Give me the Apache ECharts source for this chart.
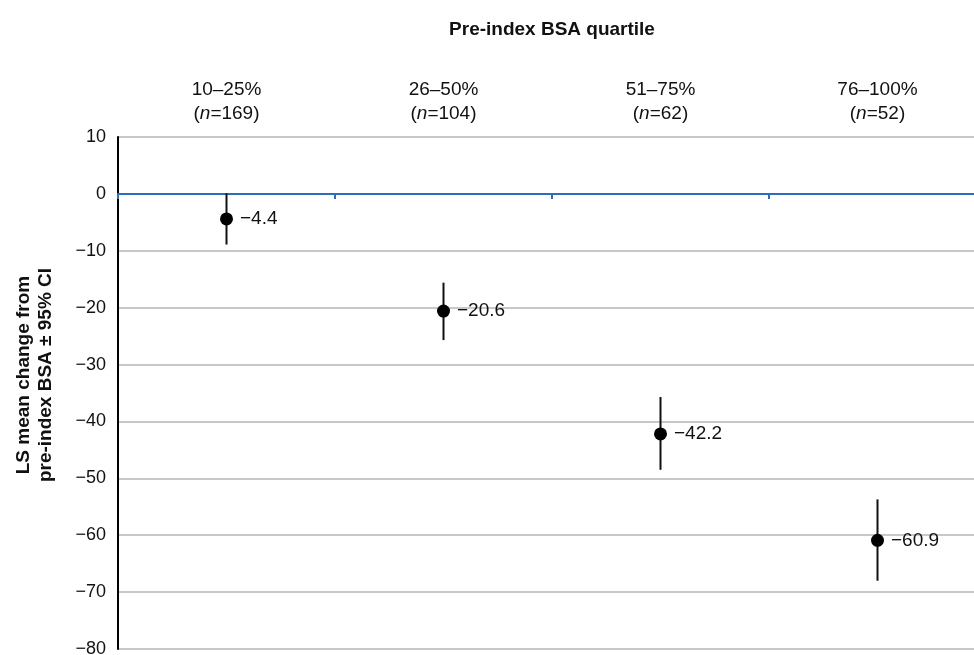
<!DOCTYPE html>
<html><head><meta charset="utf-8">
<script src="https://cdn.jsdelivr.net/npm/echarts@6/dist/echarts.min.js"></script>
<style>html,body{margin:0;padding:0;background:#fff}#c{width:974px;height:655px}</style>
</head><body><div id="c"></div>
<script>
const quartiles = ['10–25%', '26–50%', '51–75%', '76–100%'];
const nValues = [169, 104, 62, 52];
const lsMean = [-4.4, -20.6, -42.2, -60.9];
const ciUpper = [0.1, -15.6, -35.7, -53.7];
const ciLower = [-8.9, -25.7, -48.5, -68.0];
const yTicks = { min: -80, max: 10, interval: 10 };

const fmt = v => String(v).replace('-', '\u2212');
const chart = echarts.init(document.getElementById('c'));
const FONT = '"Liberation Sans", Arial, sans-serif';

chart.setOption({
  animation: false,
  textStyle: { fontFamily: FONT },
  title: {
    text: 'Pre-index BSA quartile', left: 547, top: 15, textAlign: 'center',
    textStyle: { fontFamily: FONT, fontSize: 19, fontWeight: 'bold', color: '#111' }
  },
  grid: { left: 118, width: 868, top: 137, bottom: 6, containLabel: false, outerBoundsMode: 'none' },
  xAxis: [
    {
      type: 'category', data: quartiles, position: 'top', boundaryGap: true,
      axisLine: { show: false, onZero: false }, axisTick: { show: false }, splitLine: { show: false },
      axisLabel: {
        margin: 11, interval: 0,
        formatter: (v, i) => v + '\n{p|(}{i|n}{p|=' + nValues[i] + ')}',
        fontFamily: FONT, fontSize: 19, color: '#111', lineHeight: 24,
        rich: {
          p: { fontFamily: FONT, fontSize: 19, color: '#111', lineHeight: 24 },
          i: { fontFamily: FONT, fontSize: 19, color: '#111', fontStyle: 'italic', lineHeight: 24 }
        }
      }
    },
    {
      type: 'category', data: quartiles, position: 'bottom', boundaryGap: true,
      axisLine: { show: true, onZero: true, lineStyle: { color: '#2e6dbb', width: 2 } },
      axisTick: { show: true, length: 5, lineStyle: { color: '#2e6dbb', width: 2 } },
      axisLabel: { show: false }, splitLine: { show: false }
    }
  ],
  yAxis: {
    type: 'value', min: yTicks.min, max: yTicks.max, interval: yTicks.interval,
    name: 'LS mean change from\npre-index BSA \u00b1 95% CI',
    nameLocation: 'middle', nameGap: 61, nameRotate: 90,
    nameTextStyle: { fontFamily: FONT, fontSize: 19, fontWeight: 'bold', color: '#111', lineHeight: 22, padding: [0, 0, 0, 36] },
    axisLine: { show: true, lineStyle: { color: '#000', width: 2 } },
    axisTick: { show: false },
    axisLabel: { fontFamily: FONT, fontSize: 18, color: '#111', margin: 12, formatter: v => fmt(v) },
    splitLine: { show: true, lineStyle: { color: '#c8c8c8', width: 2 } }
  },
  series: [
    {
      type: 'custom', xAxisIndex: 1,
      data: quartiles.map((q, i) => [i, ciUpper[i], ciLower[i]]),
      renderItem: (params, api) => {
        const a = api.coord([api.value(0), api.value(1)]);
        const b = api.coord([api.value(0), api.value(2)]);
        return { type: 'line', shape: { x1: a[0], y1: a[1], x2: b[0], y2: b[1] },
                 style: { stroke: '#111', lineWidth: 2 } };
      },
      z: 3
    },
    {
      type: 'scatter', xAxisIndex: 1,
      data: lsMean.map((v, i) => [i, v]),
      symbol: 'circle', symbolSize: 13,
      itemStyle: { color: '#000', opacity: 1 },
      label: {
        show: true, position: 'right', distance: 7,
        formatter: p => fmt(p.value[1]),
        fontFamily: FONT, fontSize: 19, color: '#111', opacity: 1
      },
      z: 4
    }
  ]
});
</script></body></html>
